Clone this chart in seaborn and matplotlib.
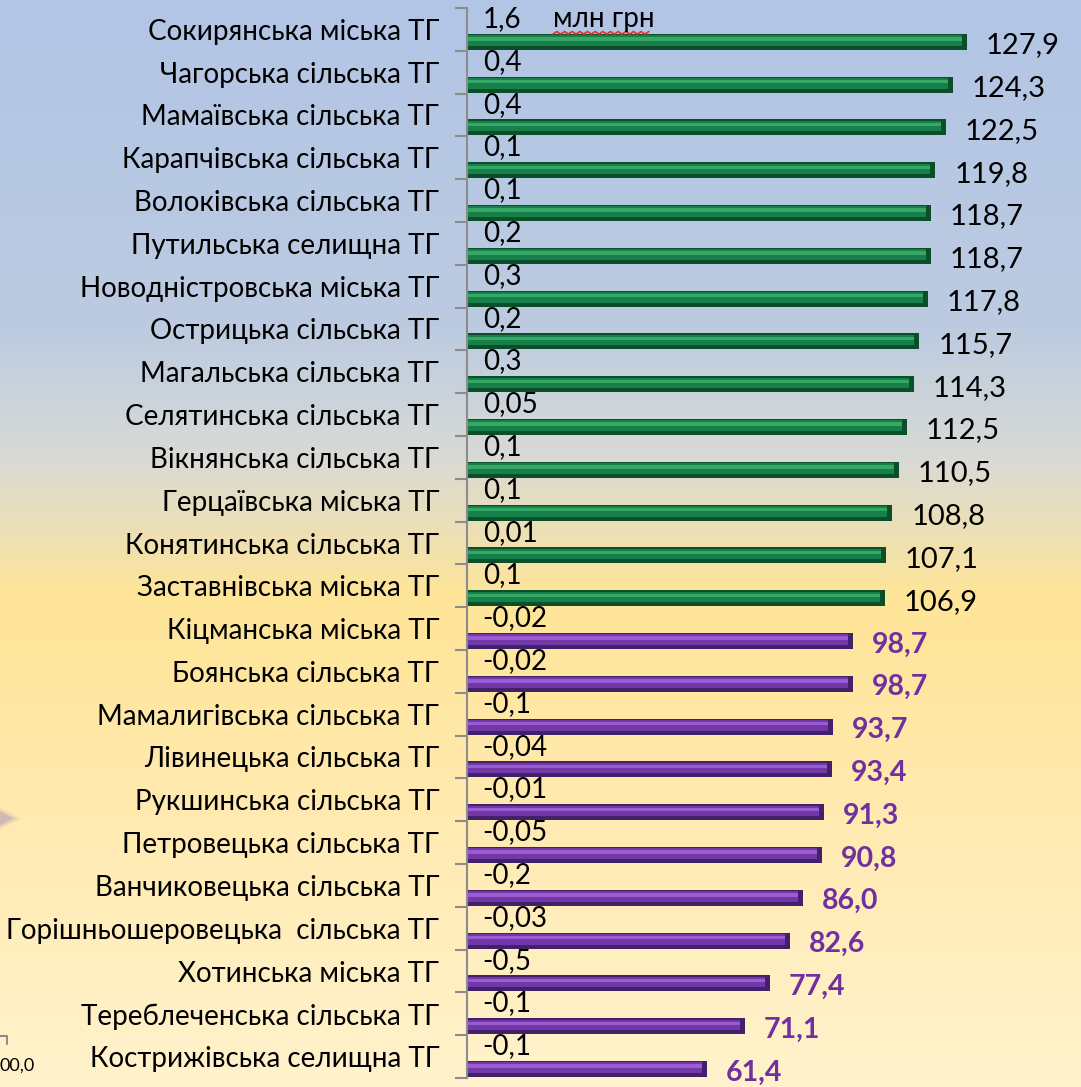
import numpy as np
import pandas as pd
import matplotlib
matplotlib.use("Agg")
import matplotlib.pyplot as plt
import seaborn as sns
from matplotlib.colors import LinearSegmentedColormap

categories = [
    "Сокирянська міська ТГ", "Чагорська сільська ТГ", "Мамаївська сільська ТГ",
    "Карапчівська сільська ТГ", "Волоківська сільська ТГ", "Путильська селищна ТГ",
    "Новодністровська міська ТГ", "Острицька сільська ТГ", "Магальська сільська ТГ",
    "Селятинська сільська ТГ", "Вікнянська сільська ТГ", "Герцаївська міська ТГ",
    "Конятинська сільська ТГ", "Заставнівська міська ТГ", "Кіцманська міська ТГ",
    "Боянська сільська ТГ", "Мамалигівська сільська ТГ", "Лівинецька сільська ТГ",
    "Рукшинська сільська ТГ", "Петровецька сільська ТГ", "Ванчиковецька сільська ТГ",
    "Горішньошеровецька  сільська ТГ", "Хотинська міська ТГ", "Тереблеченська сільська ТГ",
    "Кострижівська селищна ТГ",
]
values = [127.9, 124.3, 122.5, 119.8, 118.7, 118.7, 117.8, 115.7, 114.3, 112.5,
          110.5, 108.8, 107.1, 106.9, 98.7, 98.7, 93.7, 93.4, 91.3, 90.8,
          86.0, 82.6, 77.4, 71.1, 61.4]
diffs = ["1,6", "0,4", "0,4", "0,1", "0,1", "0,2", "0,3", "0,2", "0,3", "0,05",
         "0,1", "0,1", "0,01", "0,1", "-0,02", "-0,02", "-0,1", "-0,04", "-0,01", "-0,05",
         "-0,2", "-0,03", "-0,5", "-0,1", "-0,1"]
unit_label = "млн грн"

df = pd.DataFrame({"cat": categories, "val": values})
df["grp"] = np.where(df["val"] >= 100, "up", "down")

sns.set_theme(style="white")
plt.rcParams["font.family"] = ["Lato", "DejaVu Sans"]

W, H = 1081, 1087
fig = plt.figure(figsize=(W / 100, H / 100), dpi=100)

# background gradient
bg = fig.add_axes([0, 0, 1, 1], zorder=0)
bg.axis("off")
cmap = LinearSegmentedColormap.from_list(
    "bg", [(0.0, "#b2c5e6"), (0.30, "#bccbe0"), (0.42, "#d8dad6"),
           (0.55, "#ffe597"), (0.75, "#ffeab0"), (1.0, "#fff2cc")])
grad = np.linspace(0, 1, 256).reshape(-1, 1)
bg.imshow(grad, aspect="auto", cmap=cmap, extent=[0, 1, 0, 1], origin="upper")
bg.set_xlim(0, 1); bg.set_ylim(0, 1)

# faint arrow fragment at the left edge
for s, a in [(700, 0.08), (420, 0.12), (220, 0.2)]:
    bg.scatter([0.003], [1 - 818 / H], s=s, marker=">", color="#7a68c0", alpha=a,
               linewidths=0, zorder=3)

left = 467 / W
bottom = 1 - 1078 / H
top_px = 8
ax = fig.add_axes([left, bottom, 1 - left, (1078 - top_px) / H], zorder=2)
ax.patch.set_alpha(0)

pal = {"up": "#0b4f2a", "down": "#43206a"}
mid = {"up": "#17804a", "down": "#7238a8"}
hi = {"up": "#35a866", "down": "#9a5cd0"}
sns.barplot(data=df, y="cat", x="val", hue="grp", palette=pal, orient="h",
            width=0.37, dodge=False, legend=False, ax=ax, saturation=1,
            linewidth=0, edgecolor="none")
sns.barplot(data=df, y="cat", x="val", hue="grp", palette=mid, orient="h",
            width=0.25, dodge=False, legend=False, ax=ax, saturation=1,
            linewidth=0, edgecolor="none")
sns.barplot(data=df, y="cat", x="val", hue="grp", palette=hi, orient="h",
            width=0.08, dodge=False, legend=False, ax=ax, saturation=1,
            linewidth=0, edgecolor="none")
n = len(categories)
for p in ax.patches[n:2 * n]:
    p.set_y(p.get_y() - 0.03)
    p.set_width(p.get_width() - 1.3)
for p in ax.patches[2 * n:]:
    p.set_y(p.get_y() - 0.07)
    p.set_width(p.get_width() - 1.3)

ax.set_xlim(0, 614 / 3.91)
off = 0.29
ax.set_ylim(n - 1 + 0.21, -0.79)
ax.set_yticks(np.arange(n) - off)
ax.set_yticklabels(categories, fontsize=20, color="black")
ax.tick_params(axis="y", which="major", left=False, length=0, pad=20)
ax.set_yticks(np.arange(-0.79, n, 1.0), minor=True)
ax.tick_params(axis="y", which="minor", left=True, length=9, width=1.5,
               color="#8c8c8c", direction="out")
ax.set_xticks([])
ax.set_xlabel(""); ax.set_ylabel("")
for s in ["top", "right", "bottom"]:
    ax.spines[s].set_visible(False)
ax.spines["left"].set_color("#8c8c8c")
ax.spines["left"].set_linewidth(1.5)

for i, (v, d) in enumerate(zip(values, diffs)):
    lab = f"{v:.1f}".replace(".", ",")
    if v >= 100:
        ax.text(v + 4.8, i + 0.08, lab, va="center", ha="left",
                fontsize=21, color="black")
    else:
        ax.text(v + 4.8, i + 0.08, lab, va="center", ha="left",
                fontsize=20.5, color="#7030a0", fontweight="bold")
    ax.text(4.0, i - 0.53, d, va="center", ha="left", fontsize=20, color="black")

ax.text(22, -0.53, unit_label, va="center", ha="left", fontsize=20, color="black")
# spell-check squiggle under the unit label
zx = np.linspace(22, 46.5, 26)
zy = -0.21 + np.where(np.arange(26) % 2 == 0, 0.03, -0.03)
ax.plot(zx, zy, color="#e03030", lw=1.2, clip_on=False)

# stray fragment of neighbouring chart at bottom-left
fig.text(0, 1 - 1066 / H, "00,0", fontsize=13, color="black", va="center", ha="left")
fig.add_artist(plt.Line2D([0, 7 / W, 7 / W], [1 - 1036 / H, 1 - 1036 / H, 1 - 1044 / H],
                          color="#8c8c8c", lw=1.5))

fig.savefig("out.png", dpi=100)
